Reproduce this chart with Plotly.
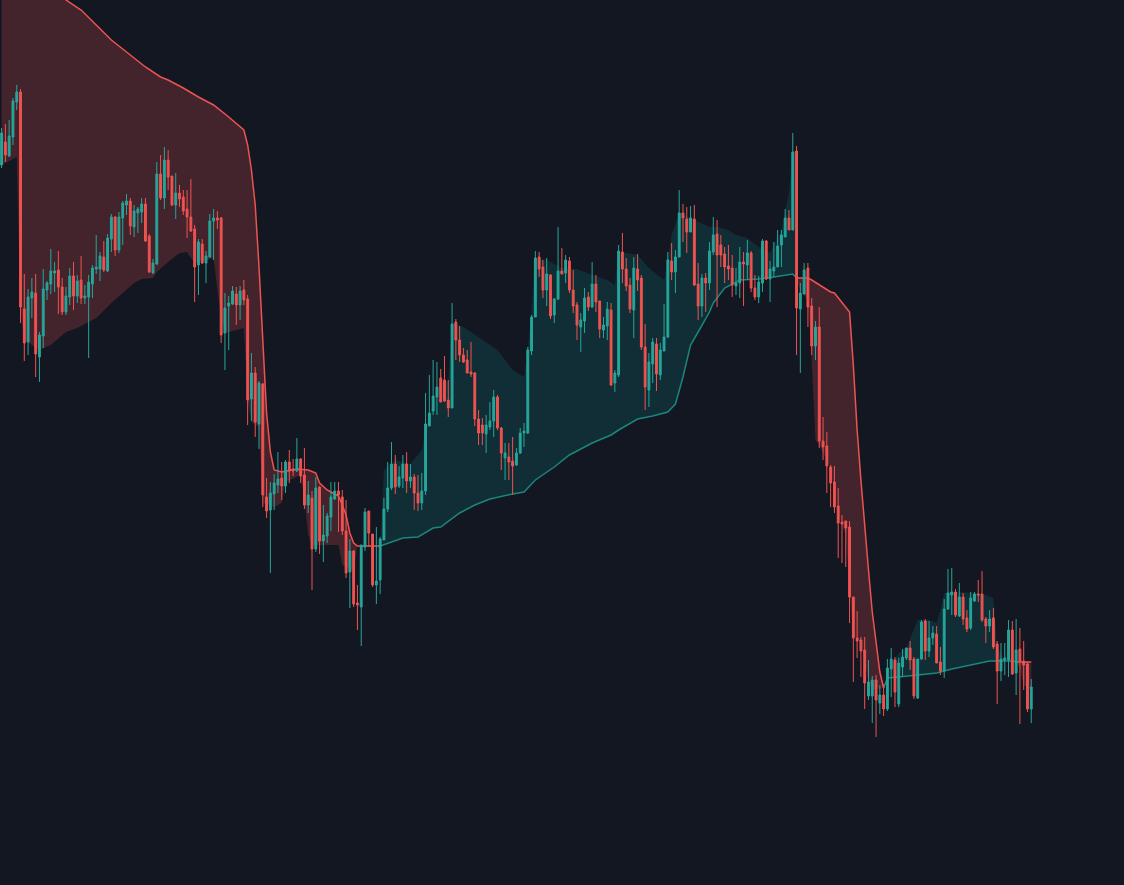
import plotly.graph_objects as go

# OHLC values (price units), one entry per bar
open_ = [
    735, 758, 744, 763, 798, 808, 591, 558, 602, 607,
    543, 564, 610, 616, 627, 630, 613, 588, 603, 624,
    604, 620, 602, 603, 616, 631, 631, 643, 629, 661,
    683, 650, 682, 695, 699, 673, 687, 688, 696, 664,
    627, 636, 726, 702, 740, 724, 695, 707, 703, 691,
    683, 671, 635, 656, 637, 643, 679, 682, 682, 567,
    594, 596, 606, 595, 610, 601, 501, 527, 476, 516,
    403, 390, 406, 415, 422, 414, 438, 431, 429, 441,
    425, 395, 402, 351, 413, 359, 364, 383, 401, 409,
    403, 369, 328, 349, 297, 293, 353, 389, 366, 315,
    320, 360, 391, 412, 436, 414, 422, 436, 419, 423,
    407, 397, 409, 474, 489, 503, 522, 520, 500, 492,
    578, 560, 545, 540, 528, 527, 481, 475, 466, 473,
    479, 503, 472, 442, 443, 439, 435, 447, 467, 467,
    549, 583, 643, 633, 610, 625, 585, 601, 629, 627,
    639, 610, 595, 573, 579, 603, 593, 616, 599, 570,
    574, 590, 517, 525, 648, 631, 615, 590, 631, 622,
    553, 510, 536, 556, 525, 549, 563, 639, 628, 643,
    687, 681, 668, 681, 616, 594, 622, 617, 648, 666,
    655, 646, 634, 632, 614, 617, 638, 635, 647, 612,
    603, 617, 659, 621, 629, 633, 655, 663, 682, 670,
    749, 591, 606, 632, 594, 554, 573, 459, 454, 433,
    418, 394, 378, 379, 373, 303, 262, 260, 250, 204,
    204, 220, 197, 205, 191, 231, 240, 196, 233, 242,
    252, 241, 202, 241, 279, 249, 262, 266, 238, 229,
    291, 305, 308, 284, 303, 282, 272, 299, 306, 306,
    281, 274, 282, 256, 229, 240, 240, 270, 227, 251,
    239, 236, 191,
]
high = [
    772, 776, 780, 802, 815, 811, 626, 611, 622, 626,
    568, 631, 619, 651, 638, 649, 622, 613, 632, 638,
    625, 644, 615, 625, 635, 665, 648, 659, 666, 686,
    684, 688, 699, 706, 702, 695, 693, 702, 702, 666,
    641, 738, 745, 753, 750, 724, 727, 715, 710, 710,
    721, 675, 661, 661, 649, 686, 691, 689, 683, 607,
    604, 614, 613, 614, 620, 605, 547, 533, 519, 517,
    422, 418, 426, 448, 438, 440, 450, 441, 462, 442,
    452, 419, 409, 423, 414, 395, 387, 418, 418, 418,
    410, 400, 361, 350, 315, 355, 392, 389, 366, 373,
    363, 402, 438, 458, 445, 434, 445, 448, 436, 426,
    425, 427, 507, 525, 540, 538, 531, 544, 520, 597,
    581, 574, 552, 550, 558, 528, 490, 482, 485, 498,
    510, 505, 473, 457, 457, 463, 452, 472, 477, 553,
    585, 649, 648, 640, 642, 626, 602, 673, 652, 645,
    643, 630, 598, 587, 612, 608, 638, 625, 599, 583,
    598, 597, 530, 655, 667, 642, 622, 643, 646, 625,
    576, 547, 562, 562, 557, 596, 648, 657, 650, 710,
    696, 693, 694, 695, 637, 626, 627, 658, 683, 680,
    665, 653, 655, 645, 632, 653, 648, 660, 649, 625,
    624, 661, 660, 639, 658, 670, 670, 691, 690, 767,
    754, 617, 637, 637, 602, 579, 593, 483, 468, 435,
    434, 412, 385, 379, 379, 303, 289, 263, 263, 240,
    224, 225, 215, 216, 241, 252, 243, 242, 251, 252,
    259, 243, 241, 280, 281, 279, 274, 274, 253, 301,
    331, 332, 311, 317, 307, 290, 308, 308, 320, 329,
    283, 290, 292, 259, 257, 257, 280, 279, 281, 272,
    259, 238, 221,
]
low = [
    732, 738, 743, 755, 790, 577, 539, 545, 582, 523,
    518, 552, 600, 606, 608, 586, 585, 585, 595, 590,
    597, 596, 596, 542, 602, 626, 619, 628, 628, 648,
    644, 647, 655, 685, 665, 663, 667, 677, 658, 627,
    626, 635, 700, 691, 710, 694, 681, 693, 685, 662,
    668, 598, 605, 636, 617, 643, 640, 671, 557, 530,
    550, 595, 575, 580, 595, 475, 479, 463, 451, 393,
    382, 327, 390, 407, 400, 407, 417, 424, 428, 417,
    391, 387, 310, 348, 346, 338, 357, 369, 400, 368,
    365, 322, 292, 293, 270, 254, 349, 353, 313, 296,
    306, 360, 388, 410, 406, 412, 412, 407, 412, 390,
    389, 390, 405, 474, 485, 485, 498, 498, 483, 492,
    540, 538, 537, 527, 523, 474, 455, 455, 447, 470,
    463, 470, 430, 420, 420, 405, 434, 446, 453, 466,
    545, 583, 623, 602, 594, 581, 577, 600, 626, 617,
    607, 587, 560, 548, 567, 589, 592, 588, 562, 562,
    560, 514, 508, 523, 617, 609, 587, 562, 609, 550,
    490, 493, 517, 509, 520, 549, 562, 620, 607, 643,
    658, 647, 668, 614, 580, 583, 588, 610, 645, 593,
    633, 617, 620, 603, 605, 602, 594, 620, 608, 600,
    597, 608, 620, 598, 623, 633, 633, 663, 670, 670,
    545, 527, 606, 573, 545, 540, 452, 440, 407, 393,
    387, 342, 337, 333, 277, 218, 242, 223, 191, 200,
    177, 163, 186, 184, 189, 203, 193, 193, 223, 240,
    230, 201, 201, 240, 240, 243, 255, 237, 225, 222,
    290, 285, 283, 283, 275, 268, 270, 298, 298, 278,
    257, 268, 251, 196, 219, 225, 223, 225, 205, 176,
    210, 188, 177,
]
close = [
    767, 745, 764, 799, 808, 593, 557, 603, 608, 546,
    565, 611, 617, 629, 629, 613, 588, 604, 624, 604,
    619, 602, 604, 618, 632, 633, 644, 630, 662, 683,
    650, 683, 697, 699, 674, 689, 691, 696, 659, 628,
    637, 726, 702, 740, 723, 695, 707, 701, 689, 683,
    669, 633, 658, 637, 644, 679, 682, 680, 565, 592,
    597, 609, 595, 609, 600, 500, 527, 478, 517, 405,
    389, 407, 417, 421, 414, 438, 429, 429, 441, 424,
    395, 405, 351, 412, 359, 365, 384, 403, 409, 405,
    369, 327, 349, 296, 295, 355, 388, 367, 315, 319,
    361, 391, 412, 436, 413, 423, 436, 419, 423, 407,
    397, 409, 476, 487, 504, 513, 498, 499, 492, 576,
    560, 545, 538, 527, 526, 481, 467, 467, 475, 479,
    503, 472, 447, 447, 438, 434, 447, 467, 469, 550,
    583, 642, 631, 610, 626, 584, 601, 629, 626, 640,
    610, 594, 575, 580, 602, 593, 616, 598, 571, 575,
    591, 515, 527, 649, 631, 614, 591, 632, 620, 553,
    513, 538, 558, 526, 550, 563, 640, 628, 643, 687,
    682, 668, 682, 615, 594, 622, 617, 649, 665, 645,
    645, 633, 631, 615, 617, 638, 636, 647, 612, 603,
    618, 659, 621, 631, 633, 654, 665, 682, 670, 748,
    592, 607, 630, 593, 554, 573, 459, 453, 434, 417,
    393, 377, 376, 372, 303, 262, 259, 249, 217, 218,
    220, 200, 205, 191, 232, 241, 208, 237, 243, 252,
    240, 204, 241, 278, 249, 262, 267, 237, 229, 291,
    307, 308, 285, 303, 281, 271, 302, 306, 305, 280,
    274, 281, 253, 229, 241, 242, 270, 226, 250, 239,
    235, 191, 213,
]
bars = list(range(len(close)))

# Trailing-stop line and band edge, per trend segment (bar index, price)
dn1_stop_x = [0, 17, 21, 25, 29, 33, 38, 42, 44, 48, 52, 56, 60, 64, 65, 66, 67, 68, 69, 70,
              71, 72, 74, 78, 81, 83, 84, 85, 86, 88, 89, 90, 91, 92, 93, 94, 100]
dn1_stop_y = [955, 900, 890, 875, 860, 848, 833, 823, 820, 812, 803, 795, 783, 770, 755, 730, 695, 633, 555, 487,
              448, 430, 428, 431, 430, 427, 417, 413, 410, 406, 404, 395, 385, 367, 357, 354, 354]
dn1_edge_x = [0, 4, 5, 6, 8, 10, 13, 15, 17, 20, 25, 29, 35, 37, 40, 41, 44, 47, 49, 50, 51, 54,
              56, 57, 58, 59, 64, 65, 66, 68, 69, 72, 74, 75, 79, 80, 81, 82, 89, 90, 93, 94, 100]
dn1_edge_y = [735, 743, 590, 560, 555, 550, 555, 562, 568, 572, 582, 597, 617, 621, 622, 628, 638, 647, 648, 642, 638, 640,
              642, 610, 585, 567, 572, 500, 478, 473, 397, 393, 397, 418, 425, 400, 365, 355, 355, 335, 330, 354, 354]

up1_stop_x = [100, 106, 110, 114, 116, 121, 125, 129, 135, 138, 141, 146, 150, 156, 161, 163, 168, 172, 176, 178,
              180, 182, 184, 187, 188, 191, 195, 200, 204, 207, 209, 210]
up1_stop_y = [354, 362, 363, 372, 373, 387, 395, 401, 406, 408, 420, 433, 445, 457, 465, 470, 481, 484, 488, 496,
              523, 555, 568, 588, 597, 612, 620, 621, 623, 625, 626, 622]
up1_edge_x = [100, 101, 104, 108, 111, 112, 115, 117, 118, 119, 122, 126, 131, 135, 138, 139, 140, 141, 144, 148,
              152, 156, 160, 162, 163, 165, 168, 171, 175, 176, 177, 179, 184, 187, 189, 192, 194, 197, 200, 203,
              206, 208, 209, 210]
up1_edge_y = [354, 430, 440, 436, 450, 470, 510, 520, 518, 577, 573, 563, 550, 530, 523, 550, 590, 642, 640, 632,
              631, 625, 620, 615, 648, 647, 645, 632, 620, 640, 665, 687, 678, 673, 673, 670, 665, 662, 653, 647,
              670, 707, 747, 748]

dn2_stop_x = [210, 213, 214, 216, 219, 220, 224, 225, 226, 227, 228, 229, 230, 231, 232, 233]
dn2_stop_y = [622, 622, 620, 615, 608, 607, 588, 535, 470, 420, 372, 330, 288, 255, 228, 212]
dn2_edge_x = [210, 211, 213, 214, 215, 216, 218, 219, 221, 222, 223, 224, 225, 227, 228, 229, 230, 233]
dn2_edge_y = [622, 610, 600, 540, 460, 455, 440, 430, 385, 375, 365, 310, 265, 257, 240, 217, 210, 212]

up2_stop_x = [233, 234, 237, 243, 247, 251, 255, 258, 261, 267, 268]
up2_stop_y = [212, 222, 223, 225, 227, 231, 234, 237, 239, 239, 238]
up2_edge_x = [233, 235, 237, 239, 242, 245, 247, 248, 249, 251, 257, 260, 262, 263, 265, 268]
up2_edge_y = [212, 235, 247, 252, 280, 280, 277, 290, 307, 308, 307, 305, 302, 253, 240, 238]

dn3_stop_x = [268, 272]
dn3_stop_y = [238, 238]
dn3_edge_x = [268, 269, 270, 272]
dn3_edge_y = [238, 232, 215, 210]

BG = "#131722"
UP = "#26a69a"
DN = "#ef5350"
UP_LINE = "#1c857c"
UP_FILL = "#112e36"
DN_FILL = "#43242d"

fig = go.Figure()

segments = [
    (dn1_edge_x, dn1_edge_y, dn1_stop_x, dn1_stop_y, DN, DN_FILL),
    (up1_edge_x, up1_edge_y, up1_stop_x, up1_stop_y, UP_LINE, UP_FILL),
    (dn2_edge_x, dn2_edge_y, dn2_stop_x, dn2_stop_y, DN, DN_FILL),
    (up2_edge_x, up2_edge_y, up2_stop_x, up2_stop_y, UP_LINE, UP_FILL),
    (dn3_edge_x, dn3_edge_y, dn3_stop_x, dn3_stop_y, DN, DN_FILL),
]
for ex, ey, sx, sy, lc, fc in segments:
    fig.add_trace(go.Scatter(x=ex, y=ey, mode="lines", line=dict(width=0, color=fc),
                             hoverinfo="skip", showlegend=False))
    fig.add_trace(go.Scatter(x=sx, y=sy, mode="lines", line=dict(width=1.5, color=lc),
                             fill="tonexty", fillcolor=fc, hoverinfo="skip", showlegend=False))

# candles on an overlaying axis pair so they render above the band fills
fig.add_trace(go.Candlestick(
    x=bars, open=open_, high=high, low=low, close=close,
    increasing=dict(line=dict(color=UP, width=1), fillcolor=UP),
    decreasing=dict(line=dict(color=DN, width=1), fillcolor=DN),
    whiskerwidth=0, showlegend=False, xaxis="x2", yaxis="y2",
))

XR = [-0.42, 296.5]
YR = [15, 900]
fig.update_layout(
    width=1124, height=885,
    margin=dict(l=0, r=0, t=0, b=0),
    paper_bgcolor=BG, plot_bgcolor=BG,
    showlegend=False,
    boxgap=0.3,
    xaxis=dict(visible=False, range=XR, showgrid=False, zeroline=False),
    yaxis=dict(visible=False, range=YR, showgrid=False, zeroline=False),
    xaxis2=dict(visible=False, range=XR, overlaying="x", showgrid=False, zeroline=False,
                rangeslider=dict(visible=False)),
    yaxis2=dict(visible=False, range=YR, overlaying="y", showgrid=False, zeroline=False),
)

fig.write_html("out.html", config={"displayModeBar": False},
               post_script="document.body.style.margin='0';")
